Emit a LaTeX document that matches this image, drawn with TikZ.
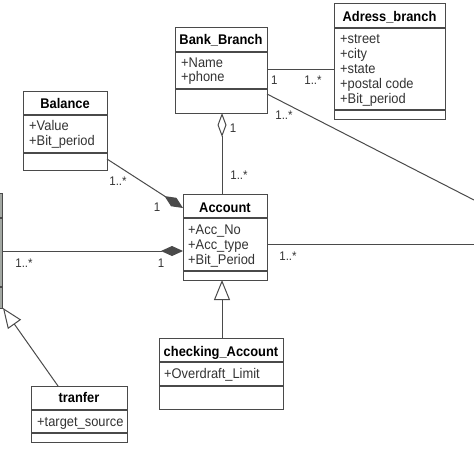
\documentclass[tikz,border=0pt]{standalone}
\usepackage{fontspec}
\setmainfont{Liberation Sans}[FakeStretch=0.92]
\usetikzlibrary{arrows.meta}
\definecolor{ln}{HTML}{4A4A4A}
\definecolor{tx}{HTML}{333333}
\definecolor{partfill}{HTML}{A3A8A3}
\newcommand\ucls[9]{%
  \node[box, minimum width={(#4-#2)*1pt}, minimum height={(#5-#3)*1pt}] (#1) at (#2,#3) {};
  \draw[boxline] (#2,#6) -- (#4,#6);
  \draw[boxline] (#2,#7) -- (#4,#7);
  \node[ttl] (#1-t) at ({(#2+#4)/2},#9) {#8};
}
\begin{document}
\begin{tikzpicture}[x=1pt,y=-1pt,
  box/.style={draw=ln, line width=1.1pt, fill=white, inner sep=0, anchor=north west},
  boxline/.style={draw=ln, line width=1.1pt},
  ttl/.style={font=\fontsize{14}{16}\selectfont\bfseries, text=black, anchor=base, inner sep=0},
  att/.style={font=\fontsize{14}{16}\selectfont, text=tx, anchor=base west, inner sep=0},
  lab/.style={font=\fontsize{12.5}{14}\selectfont, text=tx, inner sep=0},
  conn/.style={draw=ln, line width=1pt},
  odia/.style={-{Diamond[open, length=24pt, width=9pt, line width=1pt]}},
  fdia/.style={-{Diamond[length=22pt, width=10pt]}},
  gen/.style={-{Triangle[open, length=20pt, width=16pt, line width=1pt]}}]
\useasboundingbox (0,0) rectangle (474,474);

% partial class at left edge
\node[draw=ln, fill=partfill, line width=1pt, inner sep=0, anchor=north east,
      minimum width=12pt, minimum height=115pt] (part) at (3,193) {};
\draw[boxline] (-10,218) -- (3,218);
\draw[boxline] (-10,287) -- (3,287);

% classes
\ucls{bank}{175}{27}{267}{113}{52}{89}{Bank\_Branch}{44}
\node[att] (bank-a1) at (181,67) {+Name};
\node[att] (bank-a2) at (181,81) {+phone};

\ucls{adr}{334}{3}{445}{119}{28}{110}{Adress\_branch}{21}
\node[att] (adr-a1) at (340,43) {+street};
\node[att] (adr-a2) at (340,58) {+city};
\node[att] (adr-a3) at (340,73) {+state};
\node[att] (adr-a4) at (340,88) {+postal code};
\node[att] (adr-a5) at (340,103) {+Bit\_period};

\ucls{bal}{23}{91}{107}{170}{115}{153}{Balance}{108}
\node[att] (bal-a1) at (29,130) {+Value};
\node[att] (bal-a2) at (29,145) {+Bit\_period};

\ucls{acc}{183}{194}{267}{280}{218}{271}{Account}{212}
\node[att] (acc-a1) at (188,234) {+Acc\_No};
\node[att] (acc-a2) at (188,249) {+Acc\_type};
\node[att] (acc-a3) at (188,264) {+Bit\_Period};

\ucls{chk}{159}{338}{283}{409}{362}{386}{checking\_Account}{356}
\node[att] (chk-a1) at (164,378) {+Overdraft\_Limit};

\ucls{trf}{31}{386}{127}{442}{410}{433}{tranfer}{402}
\node[att] (trf-a1) at (37,426) {+target\_source};

% connector end points
\coordinate (bankR1) at (267,69);
\coordinate (adrL) at (334,69);
\coordinate (bankR2) at (267,94);
\coordinate (offR1) at (474,200);
\coordinate (bankB) at (222,113);
\coordinate (accT) at (222,194);
\coordinate (balR) at (107,159);
\coordinate (accL1) at (183,208);
\coordinate (partR) at (3,251);
\coordinate (accL2) at (183,251);
\coordinate (accR) at (267,244);
\coordinate (offR2) at (474,244);
\coordinate (accB) at (222,280);
\coordinate (chkT) at (222,338);
\coordinate (trfT) at (58,386);
\coordinate (partB) at (3,308);

% connectors
\draw[conn] (bankR1) -- (adrL);
\node[lab, anchor=west] at (271,80) {1};
\node[lab] at (313,80) {1..*};

\draw[conn] (bankR2) -- (offR1);
\node[lab] at (284,115) {1..*};

\draw[conn, odia] (accT) -- (bankB);
\node[lab] at (233,128) {1};
\node[lab] at (239,175) {1..*};

\draw[conn, fdia] (balR) -- (accL1);
\node[lab] at (118,181) {1..*};
\node[lab] at (157,207) {1};

\draw[conn, fdia] (partR) -- (accL2);
\node[lab] at (24,263) {1..*};
\node[lab] at (161,263) {1};

\draw[conn] (accR) -- (offR2);
\node[lab] at (288,256) {1..*};

\draw[conn, gen] (chkT) -- (accB);
\draw[conn, gen] (trfT) -- (partB);
\end{tikzpicture}
\end{document}
